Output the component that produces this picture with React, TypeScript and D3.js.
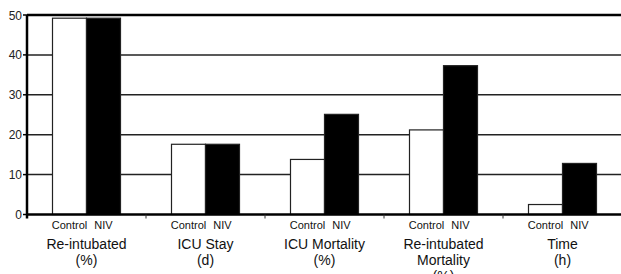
import React, { useRef, useEffect } from 'react';
import * as d3 from 'd3';

const categories: string[][] = [
  ['Re-intubated', '(%)'],
  ['ICU Stay', '(d)'],
  ['ICU Mortality', '(%)'],
  ['Re-intubated', 'Mortality', '(%)'],
  ['Time', '(h)'],
];
const series: string[] = ['Control', 'NIV'];
const controlValues: number[] = [49.2, 17.6, 13.8, 21.2, 2.5];
const nivValues: number[] = [49.2, 17.6, 25.1, 37.3, 12.8];
const yTicks: number[] = [0, 10, 20, 30, 40, 50];

const App: React.FC = () => {
  const svgRef = useRef<SVGSVGElement | null>(null);

  useEffect(() => {
    const svg = d3.select(svgRef.current);
    svg.selectAll('*').remove();

    const width = 621;
    const margin = { top: 15, left: 27, bottom: 214.5 };
    const font = 'Arial, "Liberation Sans", sans-serif';

    const x = d3.scaleBand<number>()
      .domain(d3.range(categories.length))
      .range([margin.left, width + 1]);
    const y = d3.scaleLinear().domain([0, 50]).range([margin.bottom, margin.top]);
    const xInner = d3.scaleBand<string>().domain(series).range([0, 68]);

    // gridlines
    svg.append('g')
      .selectAll('line')
      .data(yTicks.filter((t) => t > 0 && t < 50))
      .join('line')
      .attr('x1', margin.left)
      .attr('x2', width)
      .attr('y1', (d) => y(d))
      .attr('y2', (d) => y(d))
      .attr('stroke', '#222')
      .attr('stroke-width', 1.5);

    // bars
    const groups = svg.append('g')
      .selectAll('g')
      .data(categories.map((_, i) => i))
      .join('g')
      .attr('transform', (i) => `translate(${x(i)! + x.bandwidth() / 2 - 34},0)`);

    groups.selectAll('rect')
      .data((i) => [
        { s: 'Control', v: controlValues[i] },
        { s: 'NIV', v: nivValues[i] },
      ])
      .join('rect')
      .attr('x', (d) => xInner(d.s)!)
      .attr('width', xInner.bandwidth())
      .attr('y', (d) => y(d.v))
      .attr('height', (d) => y(0) - y(d.v))
      .attr('fill', (d) => (d.s === 'NIV' ? '#000' : '#fff'))
      .attr('stroke', '#222')
      .attr('stroke-width', 1.2);

    groups.selectAll('text.series')
      .data(series)
      .join('text')
      .attr('class', 'series')
      .attr('x', (d) => xInner(d)! + xInner.bandwidth() / 2)
      .attr('y', 229)
      .attr('text-anchor', 'middle')
      .attr('font-family', font)
      .attr('font-size', 11)
      .attr('fill', '#111')
      .text((d) => d);

    groups.each(function (i) {
      d3.select(this)
        .append('text')
        .attr('text-anchor', 'middle')
        .attr('font-family', font)
        .attr('font-size', 14)
        .attr('fill', '#111')
        .selectAll('tspan')
        .data(categories[i])
        .join('tspan')
        .attr('x', 34)
        .attr('y', (_, k) => 249 + k * 16)
        .text((d) => d);
    });

    // axes frame
    svg.append('line')
      .attr('x1', margin.left).attr('x2', width)
      .attr('y1', y(50)).attr('y2', y(50))
      .attr('stroke', '#000').attr('stroke-width', 2.5);
    svg.append('line')
      .attr('x1', margin.left).attr('x2', width)
      .attr('y1', y(0)).attr('y2', y(0))
      .attr('stroke', '#000').attr('stroke-width', 2.5);
    svg.append('line')
      .attr('x1', margin.left).attr('x2', margin.left)
      .attr('y1', y(50)).attr('y2', y(0) + 4)
      .attr('stroke', '#000').attr('stroke-width', 2.5);

    // x band separator ticks
    svg.append('g')
      .selectAll('line')
      .data(d3.range(1, categories.length))
      .join('line')
      .attr('x1', (i) => x(i)!)
      .attr('x2', (i) => x(i)!)
      .attr('y1', y(0))
      .attr('y2', y(0) + 4)
      .attr('stroke', '#333')
      .attr('stroke-width', 1);

    // y ticks
    const yAxis = svg.append('g');
    yAxis.selectAll('line')
      .data(yTicks)
      .join('line')
      .attr('x1', margin.left - 4)
      .attr('x2', margin.left)
      .attr('y1', (d) => y(d))
      .attr('y2', (d) => y(d))
      .attr('stroke', '#000')
      .attr('stroke-width', 1.5);
    yAxis.selectAll('text')
      .data(yTicks)
      .join('text')
      .attr('x', margin.left - 5)
      .attr('y', (d) => y(d) + 4.5)
      .attr('text-anchor', 'end')
      .attr('font-family', font)
      .attr('font-size', 12)
      .attr('fill', '#222')
      .text((d) => d);
  }, []);

  return (
    <div style={{ position: 'absolute', left: 0, top: 0, background: '#fff' }}>
      <svg ref={svgRef} width={621} height={274} style={{ display: 'block' }}></svg>
    </div>
  );
};

export default App;
